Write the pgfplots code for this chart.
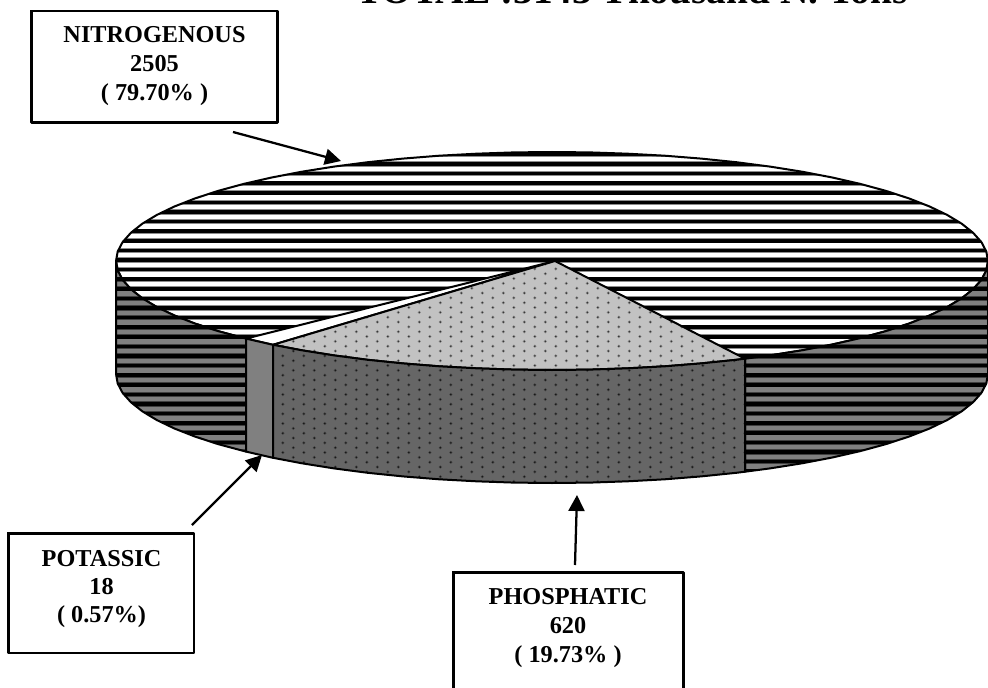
\documentclass[border=0pt]{standalone}
\usepackage{fontspec}
\setmainfont{Liberation Serif}
\usepackage{pgfplots}
\usepackage{pgfplotstable}
\pgfplotsset{compat=1.18}
\usetikzlibrary{patterns,arrows.meta}
\newcommand\dotcode[3]{%
  \pgfsetfillcolor{black!#1}\pgfpathrectangle{\pgfqpoint{3pt}{1pt}}{\pgfqpoint{15.75pt}{7.25pt}}\pgfusepath{fill}%
  \pgfsetfillcolor{black!#2}%
  \pgfpathcircle{\pgfqpoint{15.25pt}{6.22pt}}{1.3pt}\pgfusepath{fill}%
  \pgfpathcircle{\pgfqpoint{7.375pt}{2.595pt}}{1.3pt}\pgfusepath{fill}%
  \pgfsetfillcolor{black!#3}%
  \pgfpathcircle{\pgfqpoint{15.25pt}{6.22pt}}{0.7pt}\pgfusepath{fill}%
  \pgfpathcircle{\pgfqpoint{7.375pt}{2.595pt}}{0.7pt}\pgfusepath{fill}%
}
\pgfdeclarepatterninherentlycolored{topdots}{\pgfqpoint{3pt}{1pt}}{\pgfqpoint{18.75pt}{8.25pt}}{\pgfqpoint{15.75pt}{7.25pt}}{\dotcode{24}{42}{78}}
\pgfdeclarepatterninherentlycolored{sidedots}{\pgfqpoint{3pt}{1pt}}{\pgfqpoint{18.75pt}{8.25pt}}{\pgfqpoint{15.75pt}{7.25pt}}{\dotcode{60}{70}{90}}
\newcommand\lab[3]{\node[anchor=base,inner sep=0pt,font=\fontsize{18.2}{21}\selectfont\bfseries] at (axis cs:#1,#2) {#3};}
\pgfplotstableread{
x y
1000 154.4
1000 164
1000 173.6
1000 183.2
1000 192.8
1000 202.4
1000 212
1000 221.6
1000 231.2
1000 240.8
1000 250.4
1000 260
1000 269.6
1000 279.2
1000 288.8
1000 298.4
1000 308
1000 317.6
1000 327.2
1000 336.8
1000 346.4
1000 356
1000 365.6
1000 375.2
1000 384.8
1000 394.4
1000 404
1000 413.6
1000 423.2
1000 432.8
1000 442.4
1000 452
1000 461.6
1000 471.2
1000 480.8
}\stripes
\newcommand\clipright{(axis cs:745,358.7)--(axis cs:770,355.4)--(axis cs:802.1,350.3)--(axis cs:832.3,344.5)--(axis cs:860.3,338.1)--(axis cs:886,331.1)--(axis cs:909.2,323.5)--(axis cs:929.6,315.5)--(axis cs:947.1,307.1)--(axis cs:961.7,298.3)--(axis cs:973.1,289.2)--(axis cs:981.4,279.9)--(axis cs:986.3,270.5)--(axis cs:988,261)--(axis cs:988,374)--(axis cs:986.3,383.5)--(axis cs:981.4,392.9)--(axis cs:973.1,402.2)--(axis cs:961.7,411.3)--(axis cs:947.1,420.1)--(axis cs:929.6,428.5)--(axis cs:909.2,436.5)--(axis cs:886,444.1)--(axis cs:860.3,451.1)--(axis cs:832.3,457.5)--(axis cs:802.1,463.3)--(axis cs:770,468.4)--(axis cs:745,471.7)--cycle}
\newcommand\clipleft{(axis cs:246,338.6)--(axis cs:218,331.1)--(axis cs:194.8,323.5)--(axis cs:174.4,315.5)--(axis cs:156.9,307.1)--(axis cs:142.3,298.3)--(axis cs:130.9,289.2)--(axis cs:122.6,279.9)--(axis cs:117.7,270.5)--(axis cs:116,261)--(axis cs:116,374)--(axis cs:117.7,383.5)--(axis cs:122.6,392.9)--(axis cs:130.9,402.2)--(axis cs:142.3,411.3)--(axis cs:156.9,420.1)--(axis cs:174.4,428.5)--(axis cs:194.8,436.5)--(axis cs:218,444.1)--(axis cs:246,451.6)--cycle}
\newcommand\cliptop{(axis cs:988,261)--(axis cs:986.3,251.5)--(axis cs:981.4,242.1)--(axis cs:973.1,232.8)--(axis cs:961.7,223.7)--(axis cs:947.1,214.9)--(axis cs:929.6,206.5)--(axis cs:909.2,198.5)--(axis cs:886,190.9)--(axis cs:860.3,183.9)--(axis cs:832.3,177.5)--(axis cs:802.1,171.7)--(axis cs:770,166.6)--(axis cs:736.3,162.2)--(axis cs:701.1,158.6)--(axis cs:664.8,155.7)--(axis cs:627.7,153.7)--(axis cs:590,152.4)--(axis cs:552,152)--(axis cs:514,152.4)--(axis cs:476.3,153.7)--(axis cs:439.2,155.7)--(axis cs:402.9,158.6)--(axis cs:367.7,162.2)--(axis cs:334,166.6)--(axis cs:301.9,171.7)--(axis cs:271.7,177.5)--(axis cs:243.7,183.9)--(axis cs:218,190.9)--(axis cs:194.8,198.5)--(axis cs:174.4,206.5)--(axis cs:156.9,214.9)--(axis cs:142.3,223.7)--(axis cs:130.9,232.8)--(axis cs:122.6,242.1)--(axis cs:117.7,251.5)--(axis cs:116,261)--(axis cs:117.7,270.5)--(axis cs:122.6,279.9)--(axis cs:130.9,289.2)--(axis cs:142.3,298.3)--(axis cs:156.9,307.1)--(axis cs:174.4,315.5)--(axis cs:194.8,323.5)--(axis cs:218,331.1)--(axis cs:243.7,338.1)--(axis cs:271.7,344.5)--(axis cs:301.9,350.3)--(axis cs:334,355.4)--(axis cs:367.7,359.8)--(axis cs:402.9,363.4)--(axis cs:439.2,366.3)--(axis cs:476.3,368.3)--(axis cs:514,369.6)--(axis cs:552,370)--(axis cs:590,369.6)--(axis cs:627.7,368.3)--(axis cs:664.8,366.3)--(axis cs:701.1,363.4)--(axis cs:736.3,359.8)--(axis cs:770,355.4)--(axis cs:802.1,350.3)--(axis cs:832.3,344.5)--(axis cs:860.3,338.1)--(axis cs:886,331.1)--(axis cs:909.2,323.5)--(axis cs:929.6,315.5)--(axis cs:947.1,307.1)--(axis cs:961.7,298.3)--(axis cs:973.1,289.2)--(axis cs:981.4,279.9)--(axis cs:986.3,270.5)--cycle}
\begin{document}
\begin{tikzpicture}
\path[use as bounding box] (0,0) rectangle (741pt,516pt);
\begin{axis}[
  at={(0,0)},anchor=south west,
  width=741pt,height=516pt,scale only axis,
  hide axis,
  xmin=0,xmax=988,ymin=0,ymax=688,y dir=reverse,
  clip mode=individual,
  line join=round
]
% top face: nitrogenous 79.70%
\begin{scope}
\clip \cliptop;
\addplot[xcomb,no marks,draw=black!45,line width=3.8pt] table[x=x,y=y] {\stripes};
\addplot[xcomb,no marks,draw=black,line width=2.6pt] table[x=x,y=y] {\stripes};
\end{scope}
\draw[black,line width=1.5pt] \cliptop;
% top face: potassic 0.57%
\addplot[draw=black,line width=1.5pt,fill=white] coordinates {(555,261)(246,338.6)(273,344.8)(555,261)};
% top face: phosphatic 19.73%
\addplot[draw=black,line width=1.5pt,pattern=topdots] coordinates {
(555,261)(273,344.8)(301.9,350.3)(334,355.4)(367.7,359.8)(402.9,363.4)(439.2,366.3)(476.3,368.3)(514,369.6)(552,370)(590,369.6)(627.7,368.3)(664.8,366.3)(701.1,363.4)(736.3,359.8)(745,358.7)(555,261)};
% side: nitrogenous, right
\fill[black!50] \clipright;
\begin{scope}
\clip \clipright;
\addplot[xcomb,no marks,draw=black!75,line width=3.8pt] table[x=x,y=y] {\stripes};
\addplot[xcomb,no marks,draw=black,line width=2.7pt] table[x=x,y=y] {\stripes};
\end{scope}
\draw[black,line width=1.5pt] \clipright;
% side: nitrogenous, left
\fill[black!50] \clipleft;
\begin{scope}
\clip \clipleft;
\addplot[xcomb,no marks,draw=black!75,line width=3.8pt] table[x=x,y=y] {\stripes};
\addplot[xcomb,no marks,draw=black,line width=2.7pt] table[x=x,y=y] {\stripes};
\end{scope}
\draw[black,line width=1.5pt] \clipleft;
% side: potassic
\addplot[draw=black,line width=1.5pt,fill=black!50] coordinates {(246,338.6)(273,344.8)(273,457.8)(246,451.6)(246,338.6)};
% side: phosphatic
\addplot[draw=black,line width=1.5pt,pattern=sidedots] coordinates {
(273,344.8)(301.9,350.3)(334,355.4)(367.7,359.8)(402.9,363.4)(439.2,366.3)(476.3,368.3)(514,369.6)(552,370)(590,369.6)(627.7,368.3)(664.8,366.3)(701.1,363.4)(736.3,359.8)(745,358.7)
(745,471.7)(736.3,472.8)(701.1,476.4)(664.8,479.3)(627.7,481.3)(590,482.6)(552,483)(514,482.6)(476.3,481.3)(439.2,479.3)(402.9,476.4)(367.7,472.8)(334,468.4)(301.9,463.3)(273,457.8)(273,344.8)};
% label boxes
\addplot[draw=black,line width=1.9pt,line cap=rect] coordinates {(31.5,11)(277.5,11)(277.5,122.5)(31.5,122.5)(31.5,11)};
\addplot[draw=black,line width=1.9pt,line cap=rect] coordinates {(8.5,533.5)(194,533.5)(194,653)(8.5,653)(8.5,533.5)};
\addplot[draw=black,line width=1.9pt,line cap=rect] coordinates {(453.5,572.5)(683.5,572.5)(683.5,700)(453.5,700)(453.5,572.5)};
% arrows
\addplot[draw=black,line width=1.7pt,-{Triangle[length=12pt,width=12pt]}] coordinates {(233,132)(341,161)};
\addplot[draw=black,line width=1.7pt,-{Triangle[length=12pt,width=12pt]}] coordinates {(192,525)(262,455)};
\addplot[draw=black,line width=1.7pt,-{Triangle[length=12pt,width=12pt]}] coordinates {(575,565)(577,495)};
% text
\lab{154.5}{43}{NITROGENOUS}
\lab{154.5}{72}{2505}
\lab{154.5}{101}{( 79.70\% )}
\lab{101.5}{566}{POTASSIC}
\lab{101.5}{594}{18}
\lab{101.5}{622}{( 0.57\%)}
\lab{568}{604}{PHOSPHATIC}
\lab{568}{633}{620}
\lab{568}{662}{( 19.73\% )}
\node[anchor=base,inner sep=0pt,font=\fontsize{29.5}{30}\selectfont\bfseries] at (axis cs:632,4) {TOTAL :3143 Thousand N. Tons};
\end{axis}
\end{tikzpicture}
\end{document}
